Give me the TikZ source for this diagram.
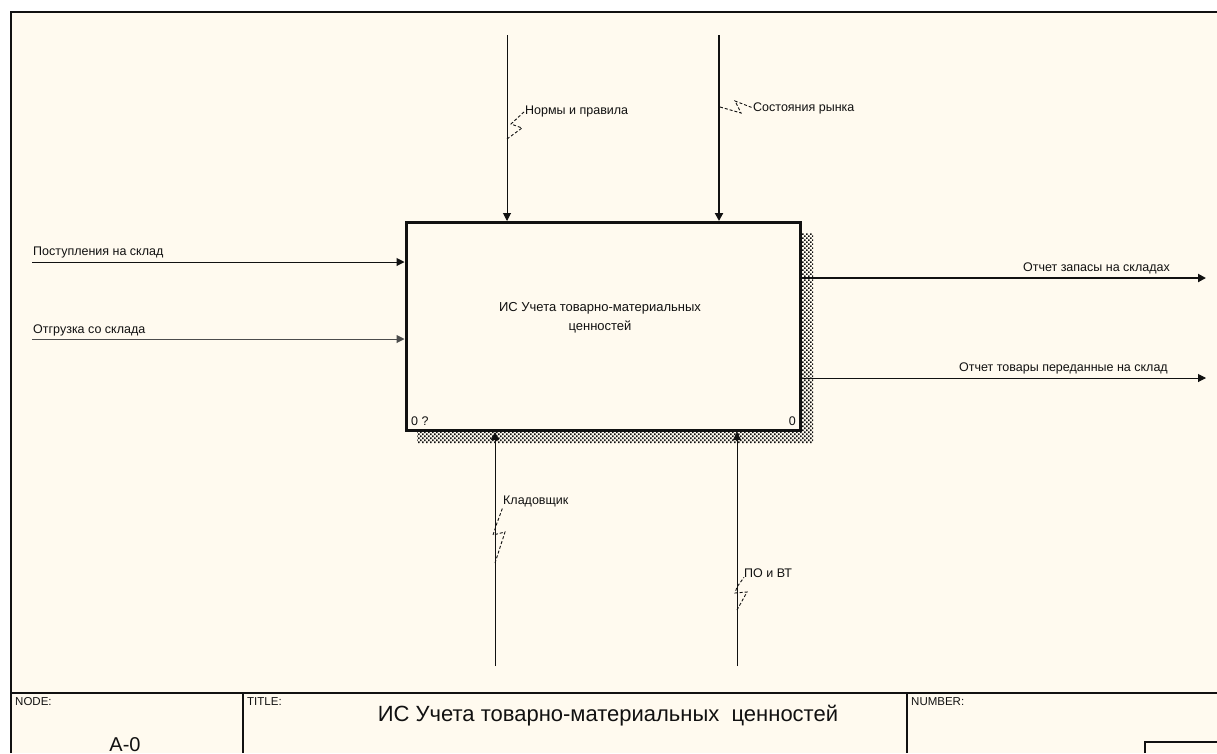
\documentclass[tikz,border=0pt]{standalone}
\usepackage{fontspec}
\setmainfont{Liberation Sans}
\usetikzlibrary{arrows.meta,positioning,patterns}
\definecolor{sheet}{HTML}{FFFAEF}
\definecolor{ink}{HTML}{111111}
\pgfdeclarepatternformonly{shadowdots}{\pgfqpoint{-0.1pt}{-0.1pt}}{\pgfqpoint{4.1pt}{4.1pt}}{\pgfqpoint{4pt}{4pt}}{
  \pgfpathrectangle{\pgfqpoint{0pt}{0pt}}{\pgfqpoint{1.6pt}{1.6pt}}
  \pgfpathrectangle{\pgfqpoint{2pt}{2pt}}{\pgfqpoint{1.6pt}{1.6pt}}
  \pgfusepath{fill}}

\begin{document}
\begin{tikzpicture}[
  x=1pt, y=-1pt, >={Triangle[length=8pt,width=8pt]}, line join=miter,
  lbl/.style={font=\fontsize{12.5}{14}\selectfont, text=ink, inner sep=0pt},
  tiny/.style={font=\fontsize{11.5}{13}\selectfont, text=ink, inner sep=0pt, anchor=north west},
  thin flow/.style={ink, line width=1pt, ->},
  thick flow/.style={ink, line width=2.6pt, ->},
  squig/.style={ink, line width=0.9pt, densely dashed},
  fnbox/.style={draw=ink, line width=3pt, fill=sheet, minimum width=394pt,
    minimum height=208pt, inner sep=0pt}]

\useasboundingbox (0,0) rectangle (1217,753);
\fill[white] (0,0) rectangle (1217,753);
\fill[sheet] (11,12) rectangle (1217,753);

% ---- frame and title block --------------------------------------------
\draw[ink, line width=2pt] (11,753) -- (11,12) -- (1217,12);
\draw[ink, line width=2pt] (11,693) -- (1217,693);
\draw[ink, line width=1.4pt] (243,693) -- (243,753);
\draw[ink, line width=1.4pt] (907,693) -- (907,753);
\draw[ink, line width=1.2pt] (1145,753) -- (1145,742) -- (1217,742);
\node[tiny] (nodecap) at (15,697) {NODE:};
\node[tiny] (titlecap) at (247,697) {TITLE:};
\node[tiny] (numcap) at (911,697) {NUMBER:};
\node[font=\fontsize{20}{22}\selectfont, text=ink, inner sep=0pt, anchor=base]
  (nodeno) at (125,751) {A-0};
\node[font=\fontsize{22}{24}\selectfont, text=ink, inner sep=0pt, anchor=base]
  (title) at (608,721) {ИС Учета товарно-материальных\ \ ценностей};

% ---- shadow and the function box ---------------------------------------
\fill[pattern=shadowdots, pattern color=ink]
  (800,233) -- (813,233) -- (813,443) -- (417,443) -- (417,430) -- (800,430) -- cycle;
\node[fnbox] (fn) at (603,326.5) {};
\node[lbl, align=center, font=\fontsize{13}{19}\selectfont, anchor=base]
  (fntext) at (600,330) {ИС Учета товарно-материальных\\ценностей};
\node[lbl, anchor=base west] (fnid) at (411,425) {0 ?};
\node[lbl, anchor=base east] (fnno) at (796,425) {0};

% ---- controls -----------------------------------------------------------
\coordinate (ctlA) at (507,35);
\coordinate (ctlB) at (719,35);
\draw[thin flow] (ctlA) -- (ctlA |- fn.north);
\draw[thick flow] (ctlB) -- (ctlB |- fn.north);
\node[lbl, anchor=base west] (norms) at (525,114) {Нормы и правила};
\node[lbl, anchor=base west] (market) at (753,111) {Состояния рынка};
\draw[squig] (507,139) -- (522,128) -- (511,124) -- (norms.west);
\draw[squig] (720,107) -- (741,113) -- (735,101) -- (market.west);

% ---- inputs -------------------------------------------------------------
\coordinate (inA) at (32,262);
\coordinate (inB) at (32,339);
\draw[thin flow] (inA) -- (inA -| fn.west);
\draw[thin flow, ink!75] (inB) -- (inB -| fn.west);
\node[lbl, anchor=base west] (arrive) at (33,255) {Поступления на склад};
\node[lbl, anchor=base west] (ship) at (33,333) {Отгрузка со склада};

% ---- outputs ------------------------------------------------------------
\coordinate (outA) at (1206,278);
\coordinate (outB) at (1206,378);
\draw[thick flow] (outA -| fn.east) -- (outA);
\draw[thin flow] (outB -| fn.east) -- (outB);
\node[lbl, anchor=base east] (stock) at (1170,271) {Отчет запасы на складах};
\node[lbl, anchor=base east] (handed) at (1168,371) {Отчет товары переданные на склад};

% ---- mechanisms ---------------------------------------------------------
\coordinate (mchA) at (495,666);
\coordinate (mchB) at (737,666);
\draw[thin flow] (mchA) -- (mchA |- fn.south);
\draw[thin flow] (mchB) -- (mchB |- fn.south);
\node[lbl, anchor=base west] (keeper) at (503,504) {Кладовщик};
\node[lbl, anchor=base west] (soft) at (744,577) {ПО и ВТ};
\draw[squig] (495,563) -- (505,532) -- (493,535) -- (497,523) -- (keeper.south west);
\draw[squig] (737,610) -- (747,592) -- (735,593) -- (737,587) -- (soft.south west);

\end{tikzpicture}
\end{document}
